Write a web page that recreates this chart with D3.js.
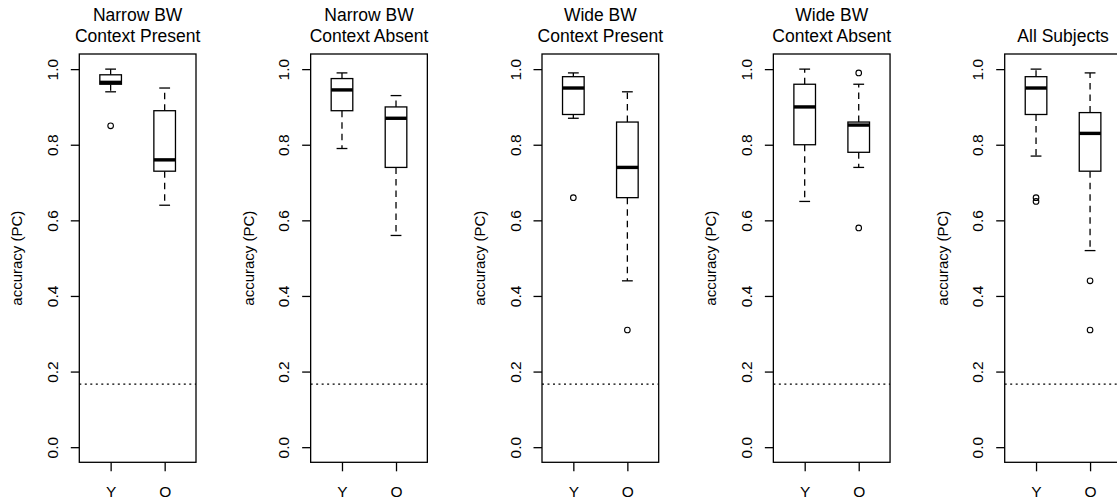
<!DOCTYPE html>
<html>
<head>
<meta charset="utf-8">
<script src="https://cdn.jsdelivr.net/npm/d3@7"></script>
<style>
  body { margin: 0; background: #fff; }
  svg { display: block; }
</style>
</head>
<body>
<div id="vis-container"></div>
<script>

// Panel titles (one or two lines each)
var titles = [
	["Narrow BW", "Context Present"],
	["Narrow BW", "Context Absent"],
	["Wide BW", "Context Present"],
	["Wide BW", "Context Absent"],
	["All Subjects"]
];
var groups = ["Y", "O"];

// box stats per panel: [lower whisker, q1, median, q3, upper whisker]
var youngStats = [
	[0.94, 0.96, 0.965, 0.985, 1.00],
	[0.79, 0.89, 0.945, 0.975, 0.99],
	[0.87, 0.88, 0.95, 0.98, 0.99],
	[0.65, 0.80, 0.90, 0.96, 1.00],
	[0.77, 0.88, 0.95, 0.98, 1.00]
];
var oldStats = [
	[0.64, 0.73, 0.76, 0.89, 0.95],
	[0.56, 0.74, 0.87, 0.90, 0.93],
	[0.44, 0.66, 0.74, 0.86, 0.94],
	[0.74, 0.78, 0.852, 0.86, 0.96],
	[0.52, 0.73, 0.83, 0.885, 0.99]
];
var youngOutliers = [[0.85], [], [0.66], [], [0.66, 0.65]];
var oldOutliers = [[], [], [0.31], [0.99, 0.58], [0.44, 0.31]];

var chanceLevel = 1 / 6;
var yTicks = [0, 0.2, 0.4, 0.6, 0.8, 1.0];

// layout
var width = 1117, height = 501;
var plotTop = 54, plotH = 408.3, plotW = 116.7;
var firstLeft = 79.3, panelStep = 231.35;
var font = "'Liberation Sans', Arial, Helvetica, sans-serif";

var svg = d3.select("#vis-container")
	.append("svg")
	.attr("width", width)
	.attr("height", height)
	.style("font-family", font);

var xScale = d3.scaleLinear().domain([0.42, 2.58]).range([0, plotW]);
var yScale = d3.scaleLinear().domain([-0.04, 1.04]).range([plotH, 0]);
var boxW = xScale(1.4) - xScale(1);
var stapleW = boxW / 2;
var lw = 1.3;

titles.forEach(function (title, i) {
	var g = svg.append("g")
		.attr("transform", "translate(" + (firstLeft + panelStep * i) + "," + plotTop + ")");

	// title
	var t = g.append("text")
		.attr("x", plotW / 2)
		.style("text-anchor", "middle")
		.style("font-size", "17.5px");
	var lines = title.length;
	title.forEach(function (line, k) {
		t.append("tspan")
			.attr("x", plotW / 2)
			.attr("y", (lines == 2 ? 20.7 + 21 * k : 41.7) - plotTop)
			.text(line);
	});

	// y axis
	var ya = g.append("g")
		.call(d3.axisLeft(yScale).tickValues(yTicks).tickSize(8.5).tickFormat(d3.format(".1f")));
	ya.select(".domain").remove();
	ya.selectAll("line").attr("stroke", "#000").attr("stroke-width", lw);
	ya.selectAll("text")
		.attr("transform", "rotate(-90)")
		.attr("x", 0)
		.attr("y", -21.5)
		.attr("dy", null)
		.attr("fill", "#000")
		.style("text-anchor", "middle")
		.style("font-size", "15.5px")
		.style("font-family", font);

	// x axis
	var xa = g.append("g")
		.attr("transform", "translate(0," + plotH + ")")
		.call(d3.axisBottom(xScale).tickValues([1, 2]).tickSize(9).tickFormat(function (d) { return groups[d - 1]; }));
	xa.select(".domain").remove();
	xa.selectAll("line").attr("stroke", "#000").attr("stroke-width", lw);
	xa.selectAll("text")
		.attr("y", 34.6)
		.attr("dy", null)
		.attr("fill", "#000")
		.style("font-size", "15.5px")
		.style("font-family", font);

	// y label
	g.append("text")
		.attr("transform", "rotate(-90)")
		.attr("x", -plotH / 2)
		.attr("y", -57)
		.style("text-anchor", "middle")
		.style("font-size", "15px")
		.text("accuracy (PC)");

	// chance line
	g.append("line")
		.attr("x1", 0).attr("x2", plotW)
		.attr("y1", yScale(chanceLevel)).attr("y2", yScale(chanceLevel))
		.attr("stroke", "#000")
		.attr("stroke-width", 1.2)
		.attr("stroke-dasharray", "2,3.5");

	// boxes
	var boxes = [
		{ pos: 1, s: youngStats[i], out: youngOutliers[i] },
		{ pos: 2, s: oldStats[i], out: oldOutliers[i] }
	];
	boxes.forEach(function (b) {
		var cx = xScale(b.pos);
		var s = b.s;
		// whiskers
		g.append("line")
			.attr("x1", cx).attr("x2", cx)
			.attr("y1", yScale(s[3])).attr("y2", yScale(s[4]))
			.attr("stroke", "#000").attr("stroke-width", lw)
			.attr("stroke-dasharray", "6.5,5");
		g.append("line")
			.attr("x1", cx).attr("x2", cx)
			.attr("y1", yScale(s[1])).attr("y2", yScale(s[0]))
			.attr("stroke", "#000").attr("stroke-width", lw)
			.attr("stroke-dasharray", "6.5,5");
		// staples
		[s[0], s[4]].forEach(function (v) {
			g.append("line")
				.attr("x1", cx - stapleW / 2).attr("x2", cx + stapleW / 2)
				.attr("y1", yScale(v)).attr("y2", yScale(v))
				.attr("stroke", "#000").attr("stroke-width", lw);
		});
		// box
		g.append("rect")
			.attr("x", cx - boxW / 2)
			.attr("y", yScale(s[3]))
			.attr("width", boxW)
			.attr("height", yScale(s[1]) - yScale(s[3]))
			.attr("fill", "#fff")
			.attr("stroke", "#000")
			.attr("stroke-width", lw);
		// median
		g.append("line")
			.attr("x1", cx - boxW / 2).attr("x2", cx + boxW / 2)
			.attr("y1", yScale(s[2])).attr("y2", yScale(s[2]))
			.attr("stroke", "#000").attr("stroke-width", 3.4);
		// outliers
		b.out.forEach(function (v) {
			g.append("circle")
				.attr("cx", cx).attr("cy", yScale(v))
				.attr("r", 2.8)
				.attr("fill", "none")
				.attr("stroke", "#000")
				.attr("stroke-width", 1.1);
		});
	});

	// frame
	g.append("rect")
		.attr("x", 0).attr("y", 0)
		.attr("width", plotW).attr("height", plotH)
		.attr("fill", "none")
		.attr("stroke", "#000")
		.attr("stroke-width", lw);
});
</script>
</body>
</html>
